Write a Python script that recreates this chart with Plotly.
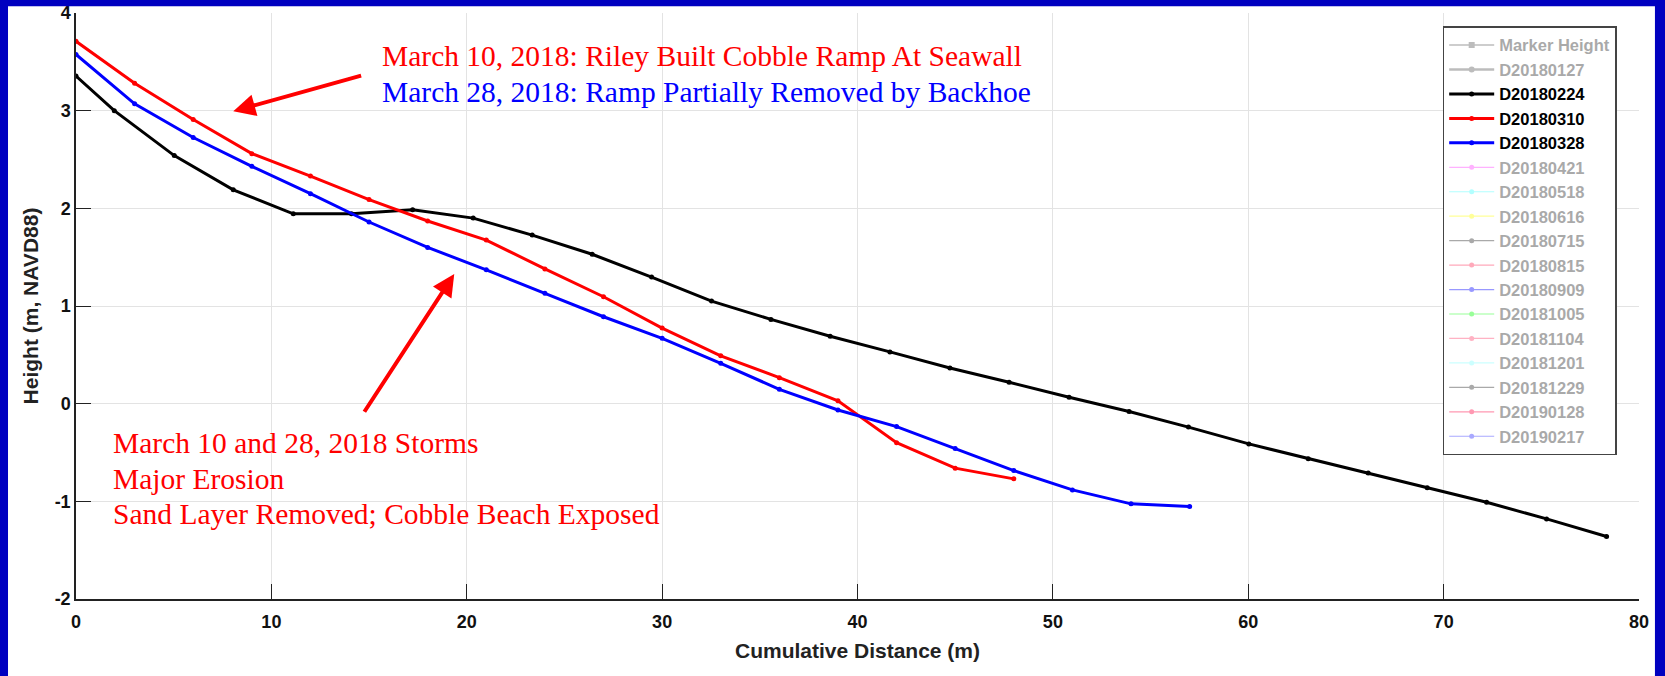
import plotly.graph_objects as go

# Beach profile surveys: cumulative distance (m) vs height (m, NAVD88)
d20180224_x = [0, 1.96, 5.03, 8.05, 11.12, 14.1, 17.23, 20.33, 23.35, 26.42, 29.46, 32.53, 35.57,
               38.6, 41.66, 44.73, 47.76, 50.83, 53.9, 56.94, 60.03, 63.07, 66.14, 69.16, 72.2,
               75.27, 78.34]
d20180224_y = [3.355, 3.0, 2.54, 2.19, 1.944, 1.945, 1.985, 1.90, 1.726, 1.53, 1.296, 1.05, 0.863,
               0.69, 0.53, 0.365, 0.219, 0.065, -0.08, -0.24, -0.412, -0.563, -0.71, -0.86, -1.01,
               -1.18, -1.36]

d20180310_x = [0, 3, 6, 9, 12, 15, 18, 21, 24, 27, 30, 33, 36, 39, 42, 45, 48]
d20180310_y = [3.71, 3.28, 2.91, 2.56, 2.33, 2.09, 1.87, 1.675, 1.38, 1.095, 0.774, 0.49, 0.266,
               0.03, -0.40, -0.66, -0.77]

d20180328_x = [0, 3, 6, 9, 12, 15, 18, 21, 24, 27, 30, 33, 36, 39, 42, 45, 48, 51, 54, 57]
d20180328_y = [3.575, 3.07, 2.725, 2.43, 2.15, 1.86, 1.6, 1.37, 1.13, 0.89, 0.669, 0.413, 0.147,
               -0.065, -0.235, -0.46, -0.685, -0.883, -1.026, -1.054]

# Surveys listed in the legend but not plotted (name, line colour)
hidden_surveys = [
    ("Marker Height", "#7a7a7a"),
    ("D20180127", "#7a7a7a"),
]
later_surveys = [
    ("D20180421", "#ff66ff"),
    ("D20180518", "#66ffff"),
    ("D20180616", "#ffff33"),
    ("D20180715", "#555555"),
    ("D20180815", "#ff5577"),
    ("D20180909", "#3333ff"),
    ("D20181005", "#33ff33"),
    ("D20181104", "#ff6688"),
    ("D20181201", "#99ffff"),
    ("D20181229", "#555555"),
    ("D20190128", "#ff3366"),
    ("D20190217", "#5555ff"),
]

x_ticks = [0, 10, 20, 30, 40, 50, 60, 70, 80]
x_ticktext = ["0", "10", "20", "30", "40", "50", "60", "70", "80"]
y_ticks = [-2, -1, 0, 1, 2, 3, 4]
y_ticktext = ["-2", "-1", "0", "1", "2", "3", "4"]

top_notes = [
    ("March 10, 2018: Riley Built Cobble Ramp At Seawall", "#ff0000", 15.55, 3.56),
    ("March 28, 2018: Ramp Partially Removed by Backhoe", "#0000ff", 15.55, 3.19),
]
storm_notes = [
    ("March 10 and 28, 2018 Storms", 1.77, -0.405),
    ("Major Erosion", 1.77, -0.767),
    ("Sand Layer Removed; Cobble Beach Exposed", 1.77, -1.125),
]
# arrows: (head x, head y, tail x, tail y)
arrows = [
    (8.05, 2.994, 14.67, 3.363),
    (19.36, 1.327, 14.71, -0.098),
]

FADED = '<span style="color:#555555">{}</span>'

fig = go.Figure()

for name, col in hidden_surveys:
    fig.add_trace(go.Scatter(
        x=[None], y=[None], name=FADED.format(name), mode="lines+markers",
        visible="legendonly",
        line=dict(color=col, width=1.5 if name == "Marker Height" else 2.5),
        marker=dict(symbol="square" if name == "Marker Height" else "circle", size=6, color=col)))

fig.add_trace(go.Scatter(
    x=d20180224_x, y=d20180224_y, name="D20180224", mode="lines+markers",
    line=dict(color="#000000", width=3), marker=dict(size=5, color="#000000")))
fig.add_trace(go.Scatter(
    x=d20180310_x, y=d20180310_y, name="D20180310", mode="lines+markers",
    line=dict(color="#ff0000", width=3), marker=dict(size=5, color="#ff0000")))
fig.add_trace(go.Scatter(
    x=d20180328_x, y=d20180328_y, name="D20180328", mode="lines+markers",
    line=dict(color="#0000ff", width=3), marker=dict(size=5, color="#0000ff")))

for name, col in later_surveys:
    fig.add_trace(go.Scatter(
        x=[None], y=[None], name=FADED.format(name), mode="lines+markers",
        visible="legendonly",
        line=dict(color=col, width=1.2), marker=dict(size=5, color=col)))

for text, col, x, y in top_notes:
    fig.add_annotation(x=x, y=y, xref="x", yref="y", text=text, showarrow=False,
                       xanchor="left", yanchor="middle",
                       font=dict(family="Liberation Serif", size=29.5, color=col))
for text, x, y in storm_notes:
    fig.add_annotation(x=x, y=y, xref="x", yref="y", text=text, showarrow=False,
                       xanchor="left", yanchor="middle",
                       font=dict(family="Liberation Serif", size=29.5, color="#ff0000"))
for hx, hy, tx, ty in arrows:
    fig.add_annotation(x=hx, y=hy, ax=tx, ay=ty, xref="x", yref="y", axref="x", ayref="y",
                       text="", showarrow=True, arrowhead=2, arrowsize=1.1, arrowwidth=4,
                       arrowcolor="#ff0000", standoff=0, startstandoff=0)

# blue slide frame around the figure
BLUE = "#0000c0"
fig.add_shape(type="rect", xref="paper", yref="paper", x0=-0.06, x1=-0.0435, y0=-0.2, y1=1.05,
              fillcolor=BLUE, line_width=0, layer="above")
fig.add_shape(type="rect", xref="paper", yref="paper", x0=-0.06, x1=1.03, y0=1.0114, y1=1.05,
              fillcolor=BLUE, line_width=0, layer="above")
fig.add_shape(type="rect", xref="paper", yref="paper", x0=1.0102, x1=1.03, y0=-0.2, y1=1.05,
              fillcolor=BLUE, line_width=0, layer="above")

axis_common = dict(
    automargin=False,
    showline=True, linecolor="#222222", linewidth=1.5, mirror=False,
    ticks="inside", ticklen=15, tickwidth=1.3, tickcolor="#222222",
    showgrid=True, gridcolor="#e3e3e3", gridwidth=1, zeroline=False,
    tickfont=dict(family="Liberation Sans", size=18, color="#111111", weight="bold"),
)

fig.update_xaxes(range=[0, 80], tickvals=x_ticks, ticktext=x_ticktext, ticklabelstandoff=6,
                 **axis_common,
                 title=dict(text="Cumulative Distance (m)", standoff=12,
                            font=dict(family="Liberation Sans", size=21, color="#222222",
                                      weight="bold")))
fig.update_yaxes(range=[-2, 4], tickvals=y_ticks, ticktext=y_ticktext, **axis_common,
                 title=dict(text="Height (m, NAVD88)", standoff=10,
                            font=dict(family="Liberation Sans", size=21, color="#222222",
                                      weight="bold")))

fig.update_layout(
    width=1665, height=676, autosize=False,
    margin=dict(l=76, r=26, t=13, b=77),
    paper_bgcolor="#ffffff", plot_bgcolor="#ffffff",
    showlegend=True,
    legend=dict(x=0.8744, y=0.9773, xanchor="left", yanchor="top",
                bgcolor="#ffffff", bordercolor="#444444", borderwidth=1.5,
                itemwidth=45,
                font=dict(family="Liberation Sans", size=16.5, color="#000000", weight="bold"),
                itemclick=False, itemdoubleclick=False, tracegroupgap=0),
)

fig.write_html("out.html")
